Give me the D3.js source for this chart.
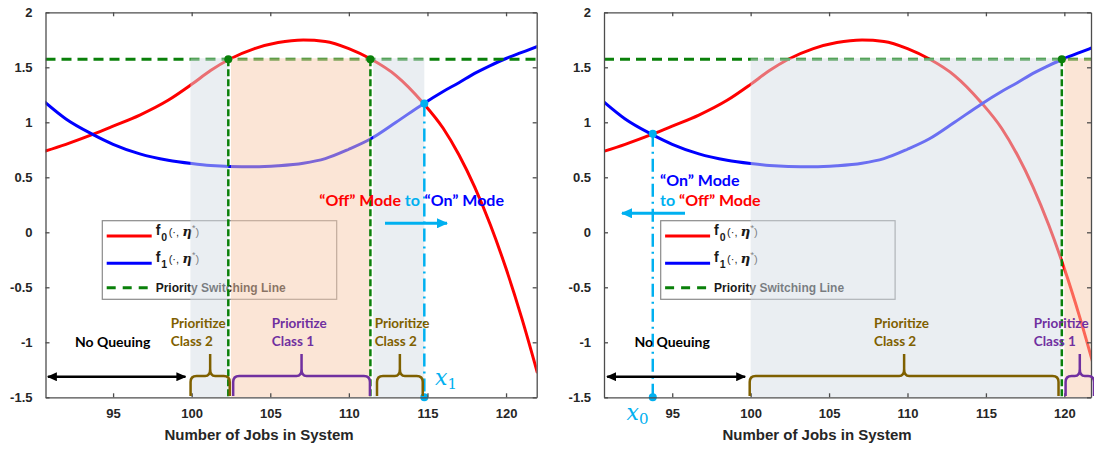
<!DOCTYPE html>
<html>
<head>
<meta charset="utf-8">
<script src="https://cdn.jsdelivr.net/npm/d3@7"></script>
<style>
  body { margin: 0; background: #fff; }
  svg { display: block; }
</style>
</head>
<body>
<svg id="chart" width="1094" height="449"></svg>
<script>
// ---- data -------------------------------------------------------------
const jobs     = [90.6, 92, 93.7, 95, 96.7, 98.5, 100, 101.2, 102.4, 104, 105.5, 107.1, 108.5, 110, 111.4, 113, 114.7, 116, 117, 118, 119, 120, 121, 122];
const f0Values = [0.735, 0.80, 0.89, 0.965, 1.066, 1.20, 1.345, 1.47, 1.573, 1.67, 1.725, 1.748, 1.735, 1.67, 1.575, 1.425, 1.18, 0.946, 0.705, 0.413, 0.068, -0.33, -0.78, -1.28];
const f1Values = [1.19, 1.03, 0.89, 0.80, 0.713, 0.655, 0.625, 0.607, 0.598, 0.595, 0.605, 0.628, 0.67, 0.755, 0.85, 1.0, 1.165, 1.28, 1.36, 1.445, 1.515, 1.58, 1.635, 1.69];

const xTickValues = [95, 100, 105, 110, 115, 120];
const xTickLabels = ["95", "100", "105", "110", "115", "120"];
const yTickValues = [2, 1.5, 1, 0.5, 0, -0.5, -1, -1.5];
const yTickLabels = ["2", "1.5", "1", "0.5", "0", "-0.5", "-1", "-1.5"];

const switchLevel = 1.573;          // priority switching line
const yDomain = [-1.5, 2];

// left panel: "Off" -> "On" at x1
const leftDomain        = [90.7, 121.95];
const leftGrayBands     = [[99.92, 102.33], [111.55, 114.8]];
const leftOrangeBands   = [[102.5, 111.37]];
const leftSwitchJobs    = [102.33, 111.37];
const leftModeJob       = 114.8;
const leftModeValue     = 1.17;
const leftBraceSpans    = [[99.93, 102.42], [102.64, 111.34], [111.79, 114.7]];
const leftBraceClasses  = [2, 1, 2];
const leftBraceLabelAt  = [98.67, 105.1, 111.64];
const leftNoQueue       = [90.85, 99.6];

// right panel: "On" -> "Off" at x0
const rightDomain       = [90.65, 121.7];
const rightGrayBands    = [[100.0, 119.8]];
const rightOrangeBands  = [[120.0, 121.9]];
const rightSwitchJobs   = [119.84];
const rightModeJob      = 93.76;
const rightModeValue    = 0.895;
const rightBraceSpans   = [[99.94, 119.63], [120.08, 121.9]];
const rightBraceClasses = [2, 1];
const rightBraceLabelAt = [107.87, 118.05];
const rightNoQueue      = [90.85, 99.65];

// ---- styles -------------------------------------------------------------
const RED = "#ff0000", BLUE = "#0000ff", GREEN = "#0a800a", CYAN = "#00b0f0";
const CLASS_COLOR = { 1: "#7030a0", 2: "#7f6000" };
const GRAY_SHADE = "rgb(213,221,229)", ORANGE_SHADE = "rgb(247,203,173)";
const TICK_FONT = "'Liberation Sans', Arial, sans-serif";
const NOTE_FONT = "Lato, 'Open Sans', sans-serif";

const svg = d3.select("#chart");
const defs = svg.append("defs");

function arrowMarker(id, color, len, wid) {
  defs.append("marker")
    .attr("id", id)
    .attr("viewBox", `0 0 ${len} ${wid}`)
    .attr("refX", len - 1).attr("refY", wid / 2)
    .attr("markerUnits", "userSpaceOnUse")
    .attr("markerWidth", len).attr("markerHeight", wid)
    .attr("orient", "auto-start-reverse")
    .append("path")
    .attr("d", `M0,0 L${len},${wid / 2} L0,${wid} Z`)
    .attr("fill", color);
}
arrowMarker("arrowCyan", CYAN, 11, 10);
arrowMarker("arrowBlack", "#000", 10, 9);

const yScale = d3.scaleLinear().domain(yDomain).range([397.3, 12.3]);

function braceRelief(x0, x1, yBase, yH, yTip) {
  const r = 6, xm = (x0 + x1) / 2;
  return `M${x0},${yBase} L${x0},${yH + r} Q${x0},${yH} ${x0 + r},${yH} ` +
         `L${xm - 5},${yH} Q${xm},${yH} ${xm},${yH - 7} L${xm},${yTip} ` +
         `M${xm},${yH - 7} Q${xm},${yH} ${xm + 5},${yH} ` +
         `L${x1 - r},${yH} Q${x1},${yH} ${x1},${yH + r} L${x1},${yBase}`;
}

function drawPanel(cfg) {
  const x = d3.scaleLinear().domain(cfg.domain).range(cfg.range);
  const y = yScale;
  const [px0, px1] = cfg.range;
  const g = svg.append("g");

  const clipId = "clip" + cfg.id;
  defs.append("clipPath").attr("id", clipId)
    .append("rect").attr("x", px0).attr("y", y(2)).attr("width", px1 - px0).attr("height", y(-1.5) - y(2));
  const plot = g.append("g").attr("clip-path", `url(#${clipId})`);

  // function curves
  const line = d3.line().x(d => x(d[0])).y(d => y(d[1])).curve(d3.curveMonotoneX);
  plot.append("path").datum(jobs.map((j, i) => [j, f0Values[i]]))
    .attr("d", line).attr("fill", "none").attr("stroke", RED).attr("stroke-width", 3);
  plot.append("path").datum(jobs.map((j, i) => [j, f1Values[i]]))
    .attr("d", line).attr("fill", "none").attr("stroke", BLUE).attr("stroke-width", 3);

  // horizontal priority switching line
  plot.append("line")
    .attr("x1", px0).attr("x2", px1).attr("y1", y(switchLevel)).attr("y2", y(switchLevel))
    .attr("stroke", GREEN).attr("stroke-width", 3).attr("stroke-dasharray", "10,6");

  // legend
  const lg = plot.append("g").attr("transform", `translate(${cfg.legendX},220.7)`);
  lg.append("rect").attr("width", 234.4).attr("height", 78.6)
    .attr("fill", "#fff").attr("stroke", "#8a8a8a").attr("stroke-width", 1.2);
  const entries = [
    { color: RED, dash: null, sub: "0", dy: 15.3 },
    { color: BLUE, dash: null, sub: "1", dy: 42.6 },
    { color: GREEN, dash: "9,7", text: "Priority Switching Line", dy: 67 }
  ];
  entries.forEach(e => {
    lg.append("line").attr("x1", 4.4).attr("x2", 49.4).attr("y1", e.dy).attr("y2", e.dy)
      .attr("stroke", e.color).attr("stroke-width", 3).attr("stroke-dasharray", e.dash);
    const t = lg.append("text").attr("x", 53.4).attr("y", e.dy + 4)
      .attr("font-family", TICK_FONT).attr("fill", "#1a1a1a");
    if (e.text) {
      t.attr("font-size", 12).attr("font-weight", "bold").text(e.text);
    } else {
      t.attr("y", e.dy - 1);
      t.append("tspan").attr("font-size", 14).attr("font-weight", "bold").text("f");
      t.append("tspan").attr("font-size", 10.5).attr("font-weight", "bold").attr("dy", 6).attr("dx", 1).text(e.sub);
      t.append("tspan").attr("font-size", 11).attr("dy", -5).attr("dx", 1.5).text("(·, ");
      t.append("tspan").attr("font-size", 13.5).attr("font-weight", "bold").attr("font-style", "italic")
        .attr("font-family", "'DejaVu Serif', serif").text("η");
      t.append("tspan").attr("font-size", 9).attr("dy", -5).text("*");
      t.append("tspan").attr("font-size", 11).attr("dy", 5).text(")");
    }
  });

  // translucent region shading (drawn over curves and legend)
  const bandTop = y(switchLevel) - 1;
  cfg.gray.forEach(b => plot.append("rect")
    .attr("x", x(b[0])).attr("width", x(b[1]) - x(b[0]))
    .attr("y", bandTop).attr("height", y(-1.5) - bandTop)
    .attr("fill", GRAY_SHADE).attr("fill-opacity", 0.5));
  cfg.orange.forEach(b => plot.append("rect")
    .attr("x", x(b[0])).attr("width", x(b[1]) - x(b[0]))
    .attr("y", bandTop).attr("height", y(-1.5) - bandTop)
    .attr("fill", ORANGE_SHADE).attr("fill-opacity", 0.5));

  // vertical priority switching lines
  cfg.switchJobs.forEach(j => {
    plot.append("line").attr("x1", x(j)).attr("x2", x(j))
      .attr("y1", y(switchLevel)).attr("y2", y(-1.5))
      .attr("stroke", GREEN).attr("stroke-width", 2.5).attr("stroke-dasharray", "7,3");
    plot.append("circle").attr("cx", x(j)).attr("cy", y(switchLevel)).attr("r", 4).attr("fill", GREEN);
  });

  // mode switching threshold
  const mx = x(cfg.modeJob);
  plot.append("line").attr("x1", mx).attr("x2", mx)
    .attr("y1", y(cfg.modeValue)).attr("y2", y(-1.5))
    .attr("stroke", CYAN).attr("stroke-width", 2.5).attr("stroke-dasharray", "13,5,2,5");
  g.append("circle").attr("cx", mx).attr("cy", y(cfg.modeValue)).attr("r", 4).attr("fill", CYAN);
  g.append("circle").attr("cx", mx).attr("cy", y(-1.5)).attr("r", 4).attr("fill", CYAN);

  // axes box with inward ticks
  const axisColor = "#4d4d4d";
  const bottom = g.append("g").attr("transform", `translate(0,${y(-1.5)})`)
    .call(d3.axisBottom(x).tickValues(xTickValues).tickFormat((d, i) => xTickLabels[i])
      .tickSizeInner(-4).tickSizeOuter(0).tickPadding(10));
  const top = g.append("g").attr("transform", `translate(0,${y(2)})`)
    .call(d3.axisTop(x).tickValues(xTickValues).tickFormat("").tickSizeInner(-4).tickSizeOuter(0));
  const left = g.append("g").attr("transform", `translate(${px0},0)`)
    .call(d3.axisLeft(y).tickValues(yTickValues).tickFormat((d, i) => yTickLabels[i])
      .tickSizeInner(-4).tickSizeOuter(0).tickPadding(13));
  const right = g.append("g").attr("transform", `translate(${px1},0)`)
    .call(d3.axisRight(y).tickValues(yTickValues).tickFormat("").tickSizeInner(-4).tickSizeOuter(0));
  [bottom, top, left, right].forEach(a => {
    a.selectAll("path, line").attr("stroke", axisColor).attr("stroke-width", 1.3);
    a.selectAll("text").attr("font-family", TICK_FONT).attr("font-size", 13)
      .attr("font-weight", "bold").attr("fill", "#262626");
  });
  bottom.selectAll("text").attr("dy", "0.85em");
  g.append("text").attr("x", cfg.titleX).attr("y", 440)
    .attr("text-anchor", "middle").attr("font-family", TICK_FONT)
    .attr("font-size", 15).attr("font-weight", "bold").attr("fill", "#262626")
    .text("Number of Jobs in System");

  // "No Queuing" span
  g.append("line").attr("x1", x(cfg.noQueue[0])).attr("x2", x(cfg.noQueue[1]))
    .attr("y1", 376.7).attr("y2", 376.7).attr("stroke", "#000").attr("stroke-width", 2.5)
    .attr("marker-start", "url(#arrowBlack)").attr("marker-end", "url(#arrowBlack)");
  g.append("text").attr("x", (x(cfg.noQueue[0]) + x(cfg.noQueue[1])) / 2 - 4).attr("y", 347)
    .attr("text-anchor", "middle").attr("font-family", NOTE_FONT).attr("font-weight", "bold")
    .attr("font-size", 14).attr("fill", "#000").text("No Queuing");

  // braces with class labels
  const bg = g.append("g");
  cfg.braces.forEach((s, i) => {
    const col = CLASS_COLOR[cfg.braceClasses[i]];
    const xa = x(s[0]), xb = Math.min(x(s[1]), 1094);
    bg.append("path").attr("d", braceRelief(xa, xb, 396, 376, 354))
      .attr("fill", "none").attr("stroke", col).attr("stroke-width", 2.5);
    const t = bg.append("text").attr("font-family", NOTE_FONT).attr("font-weight", "bold")
      .attr("font-size", 13.5).attr("fill", col);
    t.append("tspan").attr("x", x(cfg.labelAt[i])).attr("y", 328).text("Prioritize");
    t.append("tspan").attr("x", x(cfg.labelAt[i])).attr("y", 346).text("Class " + cfg.braceClasses[i]);
  });

  cfg.extra(g, x, y);
}

// left panel
drawPanel({
  id: "L", domain: leftDomain, range: [45.5, 536.7], legendX: 102.3, titleX: 259,
  gray: leftGrayBands, orange: leftOrangeBands, switchJobs: leftSwitchJobs,
  modeJob: leftModeJob, modeValue: leftModeValue, noQueue: leftNoQueue,
  braces: leftBraceSpans, braceClasses: leftBraceClasses, labelAt: leftBraceLabelAt,
  extra: (g, x, y) => {
    const t = g.append("text").attr("x", 319.3).attr("y", 205.5)
      .attr("font-family", NOTE_FONT).attr("font-weight", "bold").attr("font-size", 16);
    t.append("tspan").attr("fill", RED).text("\u201cOff\u201d Mode ");
    t.append("tspan").attr("fill", CYAN).text("to");
    t.append("tspan").attr("fill", BLUE).attr("dx", 5).text("\u201cOn\u201d Mode");
    g.append("line").attr("x1", 385).attr("x2", 447).attr("y1", 223.3).attr("y2", 223.3)
      .attr("stroke", CYAN).attr("stroke-width", 3).attr("marker-end", "url(#arrowCyan)");
    const xl = g.append("text").attr("x", 435).attr("y", 385).attr("fill", CYAN)
      .attr("font-family", "'DejaVu Serif', serif").attr("font-style", "italic");
    xl.append("tspan").attr("font-size", 22).text("x");
    xl.append("tspan").attr("font-size", 15).attr("dy", 4).attr("font-style", "normal").text("1");
  }
});

// right panel
drawPanel({
  id: "R", domain: rightDomain, range: [604, 1091], legendX: 660.7, titleX: 817,
  gray: rightGrayBands, orange: rightOrangeBands, switchJobs: rightSwitchJobs,
  modeJob: rightModeJob, modeValue: rightModeValue, noQueue: rightNoQueue,
  braces: rightBraceSpans, braceClasses: rightBraceClasses, labelAt: rightBraceLabelAt,
  extra: (g, x, y) => {
    const f = g.append("g").attr("font-family", NOTE_FONT).attr("font-weight", "bold").attr("font-size", 16);
    f.append("text").attr("x", 660).attr("y", 185.5).attr("fill", BLUE).text("\u201cOn\u201d Mode");
    const t2 = f.append("text").attr("x", 660).attr("y", 205.5);
    t2.append("tspan").attr("fill", CYAN).text("to ");
    t2.append("tspan").attr("fill", RED).text("\u201cOff\u201d Mode");
    g.append("line").attr("x1", 685).attr("x2", 622).attr("y1", 213.3).attr("y2", 213.3)
      .attr("stroke", CYAN).attr("stroke-width", 3).attr("marker-end", "url(#arrowCyan)");
    const xl = g.append("text").attr("x", 626.5).attr("y", 420).attr("fill", CYAN)
      .attr("font-family", "'DejaVu Serif', serif").attr("font-style", "italic");
    xl.append("tspan").attr("font-size", 22).text("x");
    xl.append("tspan").attr("font-size", 15).attr("dy", 4).attr("font-style", "normal").text("0");
  }
});
</script>
</body>
</html>
